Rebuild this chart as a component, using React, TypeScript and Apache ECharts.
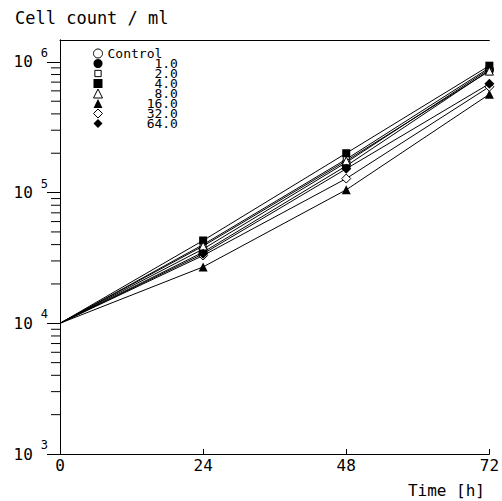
import React, { useEffect, useRef } from "react";
import * as echarts from "echarts";

const times = [0, 24, 48, 72];
const seriesNames = ["Control", "1.0", "2.0", "4.0", "8.0", "16.0", "32.0", "64.0"];
const controlVals = [10000, 37000, 170000, 880000];
const c1Vals = [10000, 35000, 160000, 860000];
const c2Vals = [10000, 40000, 180000, 900000];
const c4Vals = [10000, 43000, 200000, 935000];
const c8Vals = [10000, 39000, 175000, 850000];
const c16Vals = [10000, 27000, 105000, 565000];
const c32Vals = [10000, 33000, 128000, 645000];
const c64Vals = [10000, 34000, 152000, 680000];
const allVals = [controlVals, c1Vals, c2Vals, c4Vals, c8Vals, c16Vals, c32Vals, c64Vals];

const symbols = ["circle", "circle", "rect", "rect", "triangle", "triangle", "diamond", "diamond"];
const legendIcons = [
  "circle",
  "circle",
  "path://M0,0M10,10M1.5,1.5h7v7h-7z",
  "rect",
  "triangle",
  "triangle",
  "diamond",
  "diamond",
];
const filled = [false, true, false, true, false, true, false, true];
const sizes = [8, 9, 6, 8, 8, 9, 9, 10];

const yMinor = [
  2e3, 3e3, 4e3, 5e3, 6e3, 7e3, 8e3, 9e3,
  2e4, 3e4, 4e4, 5e4, 6e4, 7e4, 8e4, 9e4,
  2e5, 3e5, 4e5, 5e5, 6e5, 7e5, 8e5, 9e5,
];

const MONO = "'DejaVu Sans Mono', monospace";
const Y_MIN = 1000;
const Y_MAX = 1.47e6;
const NBSP = "\u00a0";

export default function App() {
  const ref = useRef<HTMLDivElement>(null);
  useEffect(() => {
    if (!ref.current) return;
    const chart = echarts.init(ref.current, null, { renderer: "svg" });
    const series: any[] = seriesNames.map((name, i) => ({
      name,
      type: "line",
      symbol: symbols[i],
      symbolSize: sizes[i],
      lineStyle: { color: "#000", width: 1 },
      itemStyle: filled[i]
        ? { color: "#000", borderColor: "#000", borderWidth: 0 }
        : { color: "#fff", borderColor: "#000", borderWidth: 1 },
      z: 2 + i,
      data: allVals[i].map((v, j) =>
        j === 0 ? { value: [times[j], v], symbol: "none" } : { value: [times[j], v] }
      ),
    }));
    series.push({
      name: "minorTicks",
      type: "line",
      symbol: "rect",
      symbolSize: [9, 1],
      symbolOffset: [-4.5, 0],
      showAllSymbol: true,
      clip: false,
      lineStyle: { opacity: 0 },
      itemStyle: { color: "#000" },
      z: 20,
      data: yMinor.map((v) => [0, v]),
    });
    const legendData = seriesNames.map((name, i) => ({
      name,
      icon: legendIcons[i],
      itemStyle: filled[i]
        ? { color: "#000", borderColor: "#000", borderWidth: 0 }
        : { color: "#fff", borderColor: "#000", borderWidth: 1 },
    }));
    chart.setOption({
      animation: false,
      backgroundColor: "#fff",
      grid: { left: 60, right: 11, top: 40, bottom: 47 },
      legend: {
        orient: "vertical",
        left: 93,
        top: 47,
        itemWidth: 9,
        itemHeight: 9,
        itemGap: -3,
        padding: 0,
        selectedMode: false,
        data: legendData,
        formatter: (name: string) =>
          name === "Control" ? name : NBSP.repeat(Math.max(0, 9 - name.length)) + name,
        textStyle: {
          fontFamily: MONO,
          fontSize: 13,
          lineHeight: 12,
          color: "#000",
        },
      },
      xAxis: [
        {
          type: "value",
          min: 0,
          max: 72,
          interval: 24,
          axisLine: { show: true, lineStyle: { color: "#000", width: 1 } },
          axisTick: { show: true, inside: true, length: 5, lineStyle: { color: "#000", width: 1 } },
          axisLabel: { margin: 3, fontFamily: MONO, fontSize: 16, color: "#000" },
          splitLine: { show: false },
        },
        {
          type: "value",
          position: "top",
          min: 0,
          max: 72,
          interval: 24,
          axisLine: { show: true, lineStyle: { color: "#000", width: 1 } },
          axisTick: { show: false },
          axisLabel: { show: false },
          splitLine: { show: false },
        },
      ],
      yAxis: [
        {
          type: "log",
          min: Y_MIN,
          max: Y_MAX,
          axisLine: { show: true, lineStyle: { color: "#000", width: 1 } },
          axisTick: { show: true, inside: false, length: 13, lineStyle: { color: "#000", width: 1 } },
          axisLabel: {
            margin: 12,
            formatter: (v: number) => `{b|10}{e|${Math.round(Math.log10(v))}}`,
            rich: {
              b: { fontFamily: MONO, fontSize: 16, color: "#000", lineHeight: 30 },
              e: { fontFamily: MONO, fontSize: 12, color: "#000", lineHeight: 12, verticalAlign: "top", padding: [0, 0, 0, 8] },
            },
          },
          splitLine: { show: false },
        },
        {
          type: "log",
          position: "right",
          min: Y_MIN,
          max: Y_MAX,
          axisLine: { show: true, lineStyle: { color: "#000", width: 1 } },
          axisTick: { show: false },
          axisLabel: { show: false },
          splitLine: { show: false },
        },
      ],
      graphic: [
        {
          type: "text",
          left: 15,
          top: 9,
          style: { text: "Cell count / ml", fontFamily: MONO, fontSize: 17, fill: "#000" },
        },
        {
          type: "text",
          right: 17,
          top: 482,
          style: { text: "Time [h]", fontFamily: MONO, fontSize: 16, fill: "#000" },
        },
      ],
      series,
    });
    return () => chart.dispose();
  }, []);
  return <div ref={ref} style={{ position: "absolute", left: 0, top: 0, width: 502, height: 501 }} />;
}
